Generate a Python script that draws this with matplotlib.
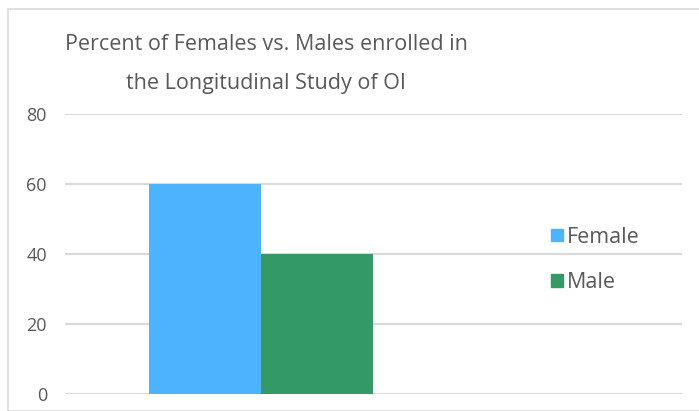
import matplotlib.pyplot as plt
from matplotlib.patches import Rectangle, Patch

# data
series = ['Female', 'Male']
values = [60, 40]
colors = ['#4DB3FF', '#339966']
yticks = [0, 20, 40, 60, 80]
title_lines = ['Percent of Females vs. Males enrolled in',
               'the Longitudinal Study of OI']

text_color = '#595959'
plt.rcParams['font.family'] = ['Open Sans', 'DejaVu Sans']

fig = plt.figure(figsize=(6.99, 4.11), dpi=100)
fig.patch.set_facecolor('white')

# chart border
fig.patches.append(Rectangle((8 / 699, 0), 1, 1 - 9 / 411, transform=fig.transFigure,
                             fill=False, edgecolor='#d9d9d9', linewidth=1.2))

ax = fig.add_axes([65 / 699, 17 / 411, 617 / 699, 280 / 411])

# bars side by side in one category
offsets = [-0.5, 0.5]
for off, v, c, s in zip(offsets, values, colors, series):
    ax.bar(off, v, width=1.0, color=c, label=s, zorder=3)

ax.set_xlim(-1.75, 3.76)
ax.set_ylim(0, 80)
ax.set_yticks(yticks)
ax.set_xticks([])
ax.yaxis.grid(True, color='#d9d9d9', linewidth=1.5, zorder=0)
ax.set_axisbelow(True)
for s in ['top', 'bottom', 'left', 'right']:
    ax.spines[s].set_visible(False)
ax.tick_params(axis='y', length=0, pad=13, labelsize=13, labelcolor=text_color)

# title, two lines
for yy, line in zip([44, 84], title_lines):
    fig.text(266 / 699, 1 - yy / 411, line, ha='center', va='center',
             fontsize=15.5, color=text_color)

handles = [Patch(color=c) for c in colors]
fig.legend(handles, series, loc='center left', bbox_to_anchor=(551 / 699, 1 - 260 / 411),
           frameon=False, fontsize=15.5, labelcolor=text_color, handlelength=0.55,
           handleheight=0.55, handletextpad=0.2, labelspacing=1.15, borderpad=0,
           borderaxespad=0)

fig.savefig('out.png', dpi=100)
